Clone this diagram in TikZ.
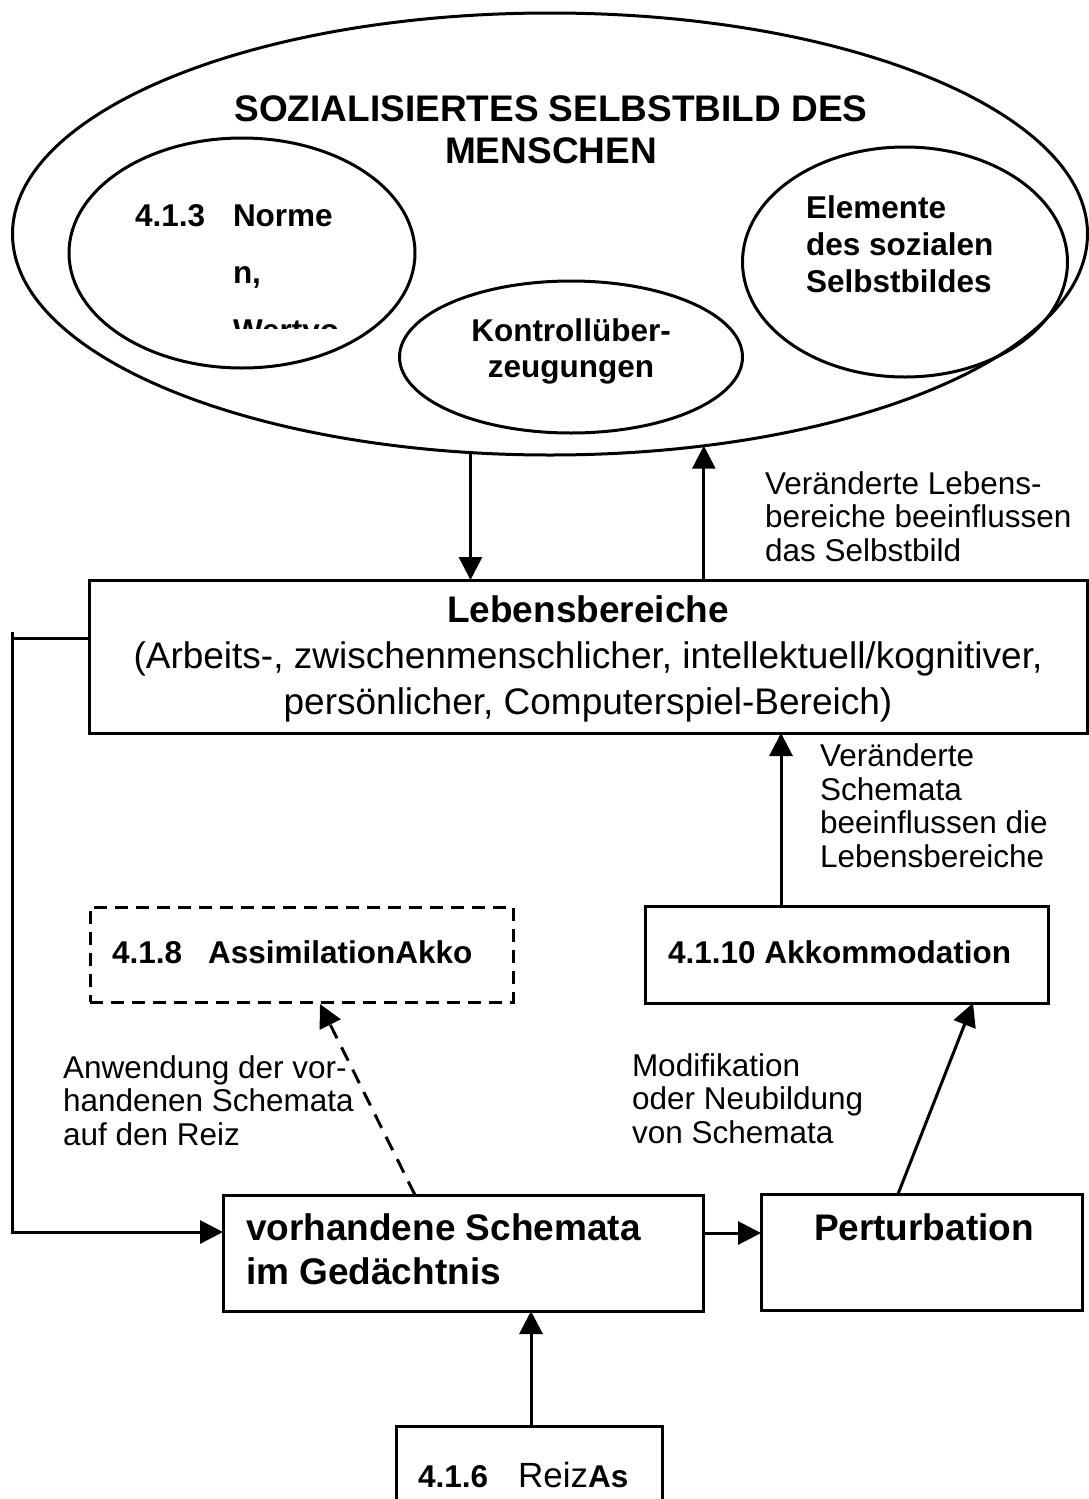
\documentclass[tikz,border=0pt]{standalone}
\usepackage{fontspec}
\setmainfont{Liberation Sans}
\usetikzlibrary{shapes.geometric,arrows.meta}

\newcommand\largetext{\fontsize{37}{46}\selectfont}
\newcommand\smalltext{\fontsize{31.5}{33.5}\selectfont}

% multi-line labels are placed by the baseline of their last line
\tikzset{
  thick line/.style={line width=3pt},
  arr/.style={thick line, -{Triangle[width=23pt,length=23pt]}},
  dasharr/.style={arr, dash pattern=on 15pt off 10pt},
  box/.style={draw, thick line, rectangle, inner sep=0pt, outer sep=0pt},
  dashbox/.style={box, dash pattern=on 13pt off 8pt},
  oval/.style={draw, thick line, ellipse, inner sep=0pt, outer sep=0pt},
  txt/.style={inner sep=0pt, outer sep=0pt, align=left, font=\smalltext},
}

\begin{document}
\begin{tikzpicture}[x=1pt,y=-1pt]
\useasboundingbox (0,0) rectangle (1089,1499);
\fill[white] (0,0) rectangle (1089,1499);

% --- socialised self-image with its three components ---
\node[oval, minimum width=1075pt, minimum height=442pt] (self) at (550,234) {};
\node[txt, align=center, anchor=base, font=\fontsize{37}{42}\selectfont\bfseries] (selftitle) at (551,163)
  {SOZIALISIERTES SELBSTBILD DES\\MENSCHEN};

\node[oval, minimum width=346pt, minimum height=230pt] (norms) at (242,253) {};
\node[txt, anchor=base west, font=\smalltext\bfseries] (normsnum) at (135,226) {4.1.3};
\begin{scope}
  \clip (0,0) rectangle (1089,328);
  \node[txt, anchor=base west, font=\fontsize{31.5}{57.5}\selectfont\bfseries] (normstext) at (233,341)
    {Norme\\n,\\Wertvo};
\end{scope}

\node[oval, minimum width=343pt, minimum height=152pt] (control) at (571,357) {};
\node[txt, align=center, anchor=base, font=\fontsize{31.5}{36}\selectfont\bfseries] (controltext) at (571,377)
  {Kontrollüber-\\zeugungen};

\node[oval, minimum width=325pt, minimum height=230pt] (elements) at (905,262) {};
\node[txt, anchor=base west, font=\fontsize{31.5}{37}\selectfont\bfseries] (elementstext) at (806,292)
  {Elemente\\des sozialen\\Selbstbildes};

% --- areas of life ---
\node[box, minimum width=998pt, minimum height=153pt] (life) at (588,656.5) {};
\node[txt, align=center, anchor=base, font=\largetext] (lifetext) at (588,714)
  {\textbf{Lebensbereiche}\\(Arbeits-, zwischenmenschlicher, intellektuell/kognitiver,\\persönlicher, Computerspiel-Bereich)};

\node[txt, anchor=base west] (lifelabel) at (765,561)
  {Veränderte Lebens-\\bereiche beeinflussen\\das Selbstbild};
\node[txt, anchor=base west] (schemalabel) at (820,867)
  {Veränderte\\Schemata\\beeinflussen die\\Lebensbereiche};

% --- assimilation and accommodation ---
\node[dashbox, minimum width=423pt, minimum height=95pt] (assim) at (301.5,954.5) {};
\node[txt, anchor=base west, font=\smalltext\bfseries] (assimtext) at (112,963)
  {4.1.8\hspace{26pt}AssimilationAkko};

\node[box, minimum width=403pt, minimum height=97pt] (accom) at (846.5,954.5) {};
\node[txt, anchor=base west, font=\smalltext\bfseries] (accomtext) at (668,963)
  {4.1.10 Akkommodation};

\node[txt, anchor=base west] (applylabel) at (63,1145)
  {Anwendung der vor-\\handenen Schemata\\auf den Reiz};
\node[txt, anchor=base west] (modlabel) at (632,1143)
  {Modifikation\\oder Neubildung\\von Schemata};

% --- schemata, perturbation, stimulus ---
\node[box, minimum width=480pt, minimum height=116pt] (schemata) at (463,1253) {};
\node[txt, anchor=base west, font=\fontsize{37}{44}\selectfont\bfseries] (schematatext) at (246,1284)
  {vorhandene Schemata\\im Gedächtnis};

\node[box, minimum width=321pt, minimum height=116pt] (pert) at (921.5,1252) {};
\node[txt, anchor=base west, font=\fontsize{37}{44}\selectfont\bfseries] (perttext) at (814,1240)
  {Perturbation};

\begin{scope}
  \clip (0,0) rectangle (1089,1499);
  \node[box, minimum width=266pt, minimum height=120pt] (stim) at (529,1486) {};
\end{scope}
\node[txt, anchor=base west] (stimtext) at (418,1487)
  {{\smalltext\bfseries 4.1.6}\hspace{30pt}{\fontsize{35}{40}\selectfont Reiz}{\smalltext\bfseries As}};

% --- connectors ---
\draw[arr] (self.250.6) -- (self.250.6 |- life.north);
\draw[arr] (life.north -| self.306) -- (self.306);

\coordinate (looptop) at (12,632);
\coordinate (loopbottom) at (12,1232);
\draw[thick line] ([yshift=18.5pt]life.west) -- ([yshift=18.5pt]life.west -| looptop);
\draw[arr] (looptop) -- (loopbottom) -- (loopbottom -| schemata.west);

\draw[arr] ([xshift=-65.5pt]accom.north) -- ([xshift=-65.5pt]accom.north |- life.south);
\draw[dasharr] ([xshift=-48pt]schemata.north) -- ([xshift=18.5pt,yshift=-2pt]assim.south);
\draw[arr] ([yshift=20pt]schemata.east) -- ([yshift=20pt]schemata.east -| pert.west);
\draw[arr] ([xshift=-23.5pt]pert.north) -- ([xshift=126.5pt]accom.south);
\draw[arr] ([xshift=2pt]stim.north) -- ([xshift=2pt]stim.north |- schemata.south);
\end{tikzpicture}
\end{document}
